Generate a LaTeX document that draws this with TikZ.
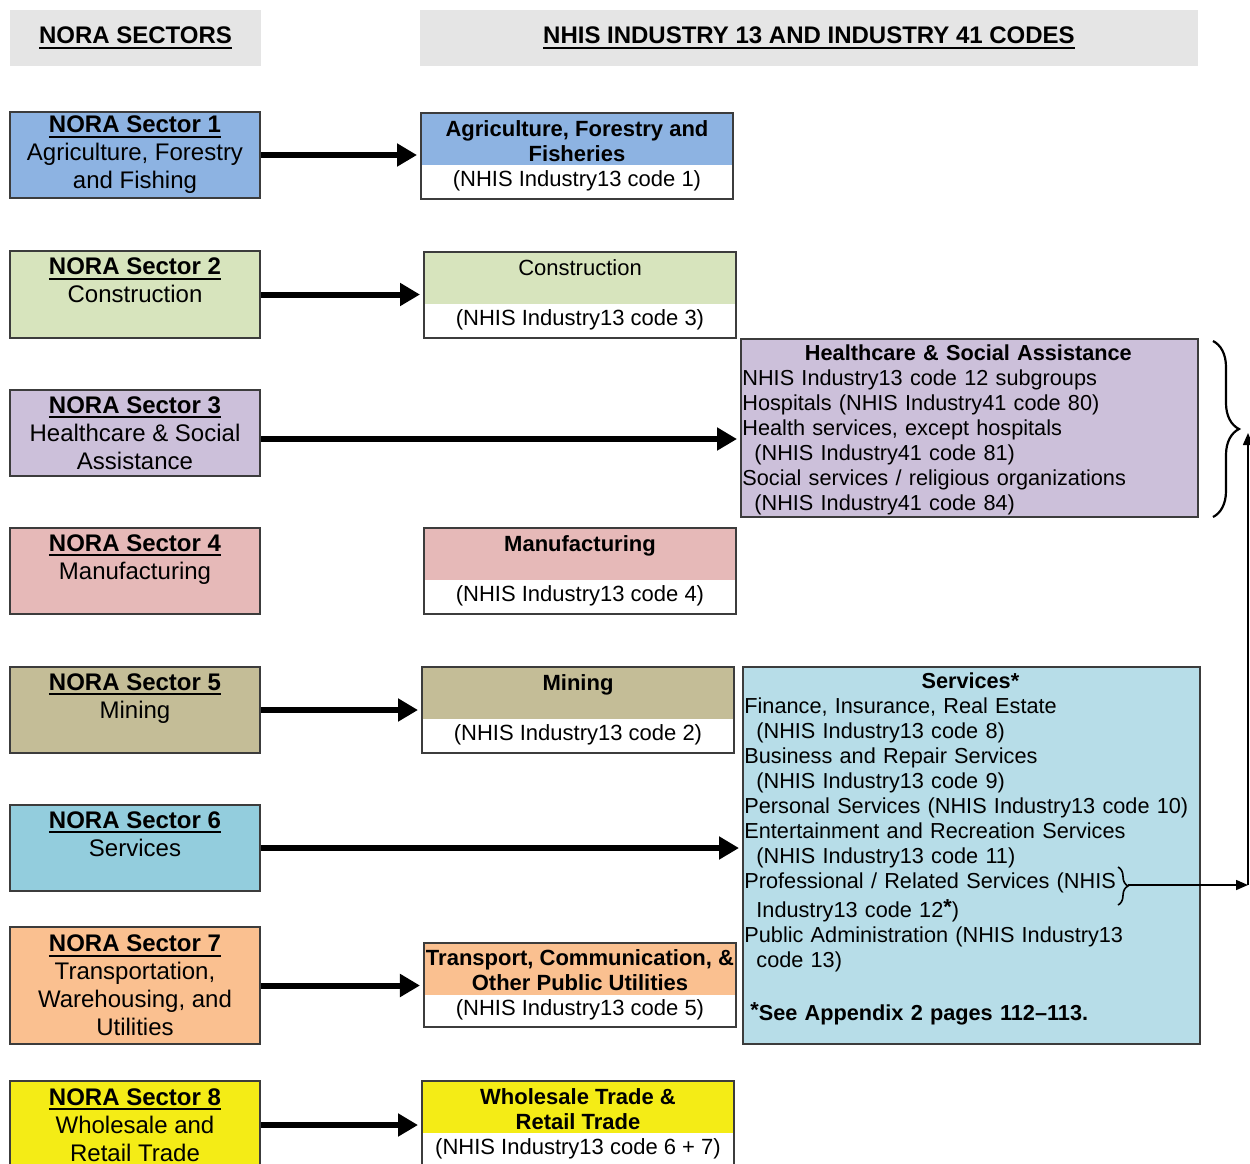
\documentclass[tikz,border=0pt]{standalone}
\usepackage{fontspec}
\setmainfont{Liberation Sans}
\usetikzlibrary{arrows.meta,calc,decorations.pathreplacing}
\definecolor{HeadGray}{RGB}{229,229,229}
\definecolor{BoxLine}{RGB}{60,60,60}
\definecolor{NoraBlue}{RGB}{141,179,226}
\definecolor{NoraGreen}{RGB}{215,228,189}
\definecolor{NoraPurple}{RGB}{204,192,218}
\definecolor{NoraPink}{RGB}{230,185,184}
\definecolor{NoraTan}{RGB}{196,189,151}
\definecolor{NoraTeal}{RGB}{147,205,221}
\definecolor{NoraSky}{RGB}{183,221,232}
\definecolor{NoraOrange}{RGB}{250,192,144}
\definecolor{NoraYellow}{RGB}{244,236,22}
\newcommand{\sectorsize}{\fontsize{12}{14}\selectfont}
\newcommand{\codesize}{\fontsize{11}{12.5}\selectfont}
\newcommand{\listsize}{\fontsize{10.85}{12.5}\selectfont}
\newcommand{\noraul}[1]{\setbox0=\hbox{\textbf{#1}}\rlap{\rule[-2.4pt]{\wd0}{0.9pt}}\box0}
\newcommand{\starmark}{\raisebox{1.5pt}{\textbf{*}}}

\begin{document}
\begin{tikzpicture}[x=0.5pt, y=-0.5pt,
    headbox/.style={fill=HeadGray, minimum width=125.5pt, minimum height=28pt, font=\sectorsize},
    sectorbox/.style={draw=BoxLine, line width=1pt, fill=#1, minimum width=125pt, minimum height=43pt, inner ysep=1pt, align=center, font=\sectorsize},
    nhisbox/.style={draw=BoxLine, line width=1pt, fill=white, minimum width=156pt, minimum height=43pt, inner xsep=1pt, align=center, font=\codesize,
        path picture={\fill[#1] ([shift={(0.5pt,-0.5pt)}]path picture bounding box.north west) rectangle ([shift={(-0.5pt,-26pt)}]path picture bounding box.north east);}},
    bigbox/.style={draw=BoxLine, line width=1pt, fill=#1, minimum width=228.5pt},
    listtext/.style={anchor=north west, inner sep=0pt, text width=226pt, align=left, font=\listsize},
    bigarrow/.style={line width=3pt, -{Triangle[length=10pt,width=11pt]}, shorten >=1.5pt},
    thinarrow/.style={line width=0.8pt, -{Triangle[length=6pt,width=5pt]}},
    bracket/.style={decorate, decoration={brace, amplitude=#1}, line width=1.1pt}]
    \useasboundingbox (0,0) rectangle (1250,1164);
    \clip (0,0) rectangle (1250,1164);

    % column headers
    \node[headbox] (hleft) at (135.5,38) {\noraul{NORA SECTORS}};
    \node[headbox, minimum width=389pt] (hright) at (809,38) {\noraul{NHIS INDUSTRY 13 AND INDUSTRY 41 CODES}};

    % NORA sectors
    \node[sectorbox=NoraBlue] (s1) at (135,155) {\noraul{NORA Sector 1}\\Agriculture, Forestry\\and Fishing};
    \node[sectorbox=NoraGreen, minimum height=43.5pt] (s2) at (135,294.5) {\noraul{NORA Sector 2}\\Construction\\\phantom{X}};
    \node[sectorbox=NoraPurple] (s3) at (135,433) {\noraul{NORA Sector 3}\\Healthcare \& Social\\Assistance};
    \node[sectorbox=NoraPink] (s4) at (135,571) {\noraul{NORA Sector 4}\\Manufacturing\\\phantom{X}};
    \node[sectorbox=NoraTan] (s5) at (135,710) {\noraul{NORA Sector 5}\\Mining\\\phantom{X}};
    \node[sectorbox=NoraTeal] (s6) at (135,848) {\noraul{NORA Sector 6}\\Services\\\phantom{X}};
    \node[sectorbox=NoraOrange, minimum height=58.5pt] (s7) at (135,985.5) {\noraul{NORA Sector 7}\\Transportation,\\Warehousing, and\\Utilities};
    \node[sectorbox=NoraYellow, minimum height=44pt] (s8) at (135,1125) {\noraul{NORA Sector 8}\\Wholesale and\\Retail Trade};

    % NHIS industry 13 codes
    \node[nhisbox=NoraBlue] (m1) at (577,156) {\textbf{Agriculture, Forestry and}\\\textbf{Fisheries}\\(NHIS Industry13 code 1)};
    \node[nhisbox=NoraGreen] (m2) at (580,294.5) {Construction\\\phantom{X}\\(NHIS Industry13 code 3)};
    \node[nhisbox=NoraPink] (m4) at (580,571) {\textbf{Manufacturing}\\\phantom{X}\\(NHIS Industry13 code 4)};
    \node[nhisbox=NoraTan] (m5) at (578,710) {\textbf{Mining}\\\phantom{X}\\(NHIS Industry13 code 2)};
    \node[nhisbox=NoraOrange, minimum height=42pt] (m7) at (580,985) {\textbf{Transport, Communication, \&}\\\textbf{Other Public Utilities}\\(NHIS Industry13 code 5)};
    \node[nhisbox=NoraYellow] (m8) at (578,1124) {\textbf{Wholesale Trade \&}\\\textbf{Retail Trade}\\(NHIS Industry13 code 6 + 7)};

    % healthcare and services groups
    \node[bigbox=NoraPurple, minimum height=89pt] (hc) at (969.5,428) {};
    \node[listtext] (hctext) at ([xshift=1pt,yshift=-3pt]hc.north west) {\makebox[226pt]{\textbf{Healthcare \& Social Assistance}}\\NHIS Industry13 code 12 subgroups\\Hospitals (NHIS Industry41 code 80)\\Health services, except hospitals\\\hspace*{6pt}(NHIS Industry41 code 81)\\Social services / religious organizations\\\hspace*{6pt}(NHIS Industry41 code 84)};
    \node[bigbox=NoraSky, minimum height=188.5pt] (svc) at (971.5,855.5) {};
    \node[listtext] (svctext) at ([xshift=1pt,yshift=-3pt]svc.north west) {\makebox[226pt]{\textbf{Services*}}\\Finance, Insurance, Real Estate\\\hspace*{6pt}(NHIS Industry13 code 8)\\Business and Repair Services\\\hspace*{6pt}(NHIS Industry13 code 9)\\Personal Services (NHIS Industry13 code 10)\\Entertainment and Recreation Services\\\hspace*{6pt}(NHIS Industry13 code 11)\\Professional / Related Services (NHIS\\[2pt]\hspace*{6pt}Industry13 code 12\starmark)\\Public Administration (NHIS Industry13\\\hspace*{6pt}code 13)\\[14pt]\hspace*{3pt}\textbf{\starmark See Appendix 2 pages 112--113.}};

    % sector arrows
    \draw[bigarrow] (s1.east) -- (s1.east -| m1.west);
    \draw[bigarrow] (s2.east) -- (s2.east -| m2.west);
    \draw[bigarrow] ([yshift=-3pt]s3.east) -- ([yshift=-3pt]s3.east -| hc.west);
    \draw[bigarrow] (s5.east) -- (s5.east -| m5.west);
    \draw[bigarrow] (s6.east) -- (s6.east -| svc.west);
    \draw[bigarrow] (s7.east) -- (s7.east -| m7.west);
    \draw[bigarrow] (s8.east) -- (s8.east -| m8.west);

    % professional services link to healthcare
    \coordinate (hctop) at (1213,341);
    \coordinate (hcbot) at (1213,517);
    \coordinate (hctip) at (1247,433);
    \draw[bracket=13pt] (hctop) -- (hcbot);
    \coordinate (prtop) at (1118,867);
    \coordinate (prbot) at (1118,905);
    \coordinate (prtip) at (1128,885);
    \coordinate (turn) at (1248,885);
    \draw[bracket=5pt, line width=0.8pt] (prtop) -- (prbot);
    \draw[thinarrow] (prtip) -- (turn);
    \draw[thinarrow] (turn) -- (turn |- hctip);
\end{tikzpicture}
\end{document}
